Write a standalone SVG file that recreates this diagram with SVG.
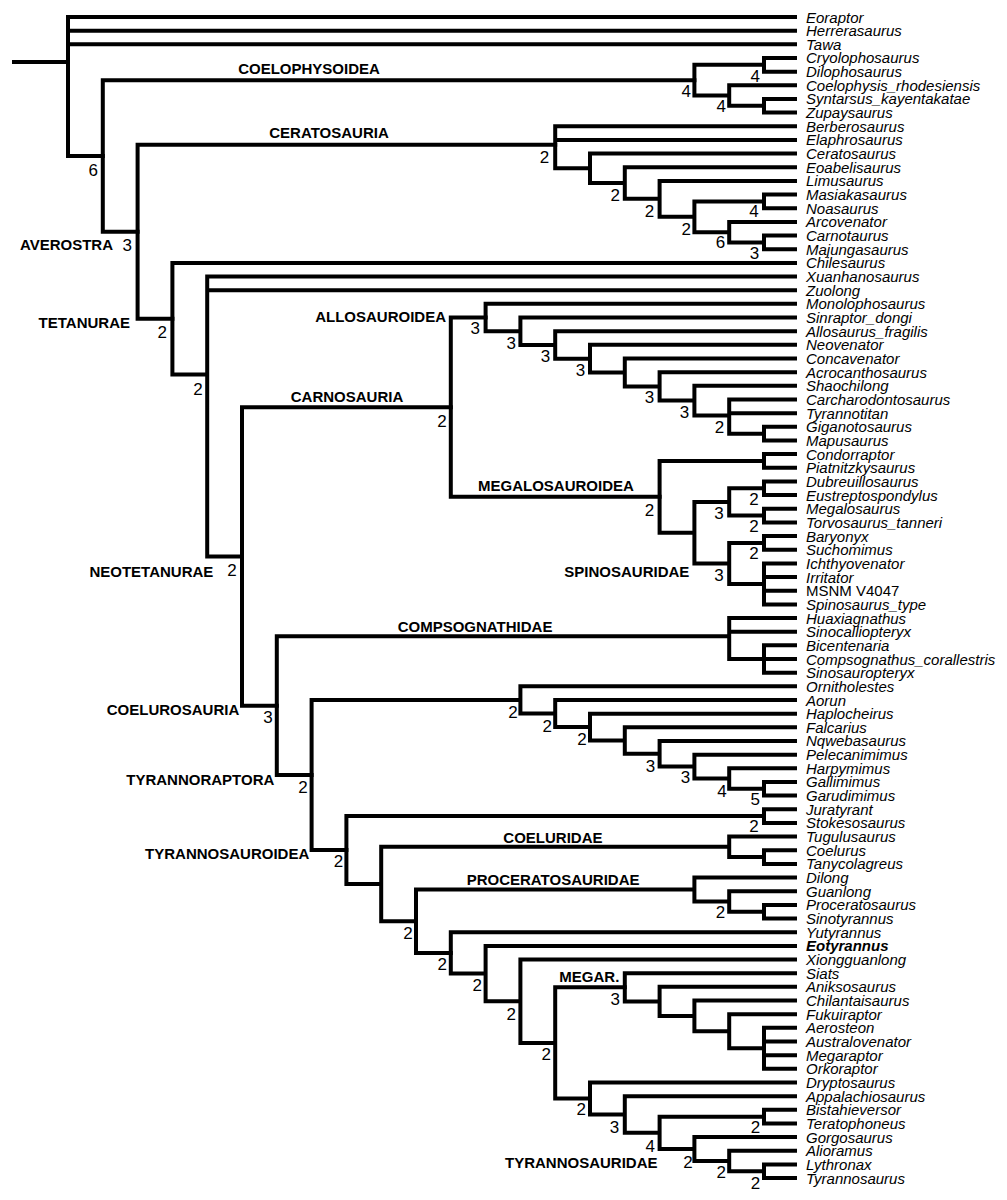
<svg xmlns="http://www.w3.org/2000/svg" width="1007" height="1200" viewBox="0 0 1007 1200">
<style>
.br{fill:none;stroke:#000;stroke-width:4;stroke-linecap:square}
.tx{font-family:"Liberation Sans",Arial,sans-serif;font-size:15px;font-style:italic;fill:#000}
.up{font-style:normal}
.bd{font-weight:bold}
.cl{font-family:"Liberation Sans",Arial,sans-serif;font-size:15px;font-weight:bold;fill:#000}
.nm{font-family:"Liberation Sans",Arial,sans-serif;font-size:17px;fill:#000;text-anchor:end}
</style>
<rect width="1007" height="1200" fill="#fff"/>
<g id="connectors">
<path class="br" d="M14 62H68M68 17V155.96M68 17H795M68 30.66H795M68 44.32H795M68 155.96H102.8"/>
<path class="br" d="M102.8 80.18V231.74M102.8 80.18H694.4M102.8 231.74H137.6"/>
<path class="br" d="M694.4 64.81V95.55M694.4 64.81H764M694.4 95.55H729.2M764 57.98V71.64M764 57.98H795M764 71.64H795M729.2 85.3V105.79M729.2 85.3H795M729.2 105.79H764M764 98.96V112.62M764 98.96H795M764 112.62H795"/>
<path class="br" d="M137.6 144.85V318.63M137.6 144.85H555.2M137.6 318.63H172.4"/>
<path class="br" d="M555.2 126.28V168.33M555.2 126.28H795M555.2 139.94H795M555.2 168.33H590M590 153.6V183.06M590 153.6H795M590 183.06H624.8M624.8 167.26V198.85M624.8 167.26H795M624.8 198.85H659.6M659.6 180.92V216.78M659.6 180.92H795M659.6 216.78H694.4M694.4 201.41V232.15M694.4 201.41H764M694.4 232.15H729.2M764 194.58V208.24M764 194.58H795M764 208.24H795M729.2 221.9V242.39M729.2 221.9H795M729.2 242.39H764M764 235.56V249.22M764 235.56H795M764 249.22H795"/>
<path class="br" d="M172.4 262.88V374.38M172.4 262.88H795M172.4 374.38H207.2M207.2 276.54V556.41M207.2 276.54H795M207.2 290.2H795M207.2 556.41H242M242 407.18V705.63M242 407.18H450.8M242 705.63H276.8"/>
<path class="br" d="M450.8 317.54V496.81M450.8 317.54H485.6M450.8 496.81H659.6"/>
<path class="br" d="M485.6 303.86V331.22M485.6 303.86H795M485.6 331.22H520.4M520.4 317.52V344.91M520.4 317.52H795M520.4 344.91H555.2M555.2 331.18V358.64M555.2 331.18H795M555.2 358.64H590M590 344.84V372.45M590 344.84H795M590 372.45H624.8M624.8 358.5V386.39M624.8 358.5H795M624.8 386.39H659.6M659.6 372.16V400.62M659.6 372.16H795M659.6 400.62H694.4M694.4 385.82V415.42M694.4 385.82H795M694.4 415.42H729.2M729.2 399.48V433.63M729.2 399.48H795M729.2 413.14H795M729.2 433.63H764M764 426.8V440.46M764 426.8H795M764 440.46H795"/>
<path class="br" d="M659.6 460.95V532.67M659.6 460.95H764M659.6 532.67H694.4M764 454.12V467.78M764 454.12H795M764 467.78H795M694.4 501.93V563.4M694.4 501.93H729.2M694.4 563.4H729.2M729.2 488.27V515.59M729.2 488.27H764M729.2 515.59H764M764 481.44V495.1M764 481.44H795M764 495.1H795M764 508.76V522.42M764 508.76H795M764 522.42H795M729.2 542.91V583.89M729.2 542.91H764M729.2 583.89H764M764 536.08V549.74M764 536.08H795M764 549.74H795M764 563.4V604.38M764 563.4H795M764 577.06H795M764 590.72H795M764 604.38H795"/>
<path class="br" d="M276.8 636.25V775.01M276.8 636.25H729.2M276.8 775.01H311.6M729.2 618.04V659.02M729.2 618.04H795M729.2 631.7H795M729.2 659.02H764M764 645.36V672.68M764 645.36H795M764 659.02H795M764 672.68H795"/>
<path class="br" d="M311.6 699.95V850.07M311.6 699.95H520.4M311.6 850.07H346.4M520.4 686.34V713.55M520.4 686.34H795M520.4 713.55H555.2M555.2 700V727.11M555.2 700H795M555.2 727.11H590M590 713.66V740.55M590 713.66H795M590 740.55H624.8M624.8 727.32V753.79M624.8 727.32H795M624.8 753.79H659.6M659.6 740.98V766.59M659.6 740.98H795M659.6 766.59H694.4M694.4 754.64V778.55M694.4 754.64H795M694.4 778.55H729.2M729.2 768.3V788.79M729.2 768.3H795M729.2 788.79H764M764 781.96V795.62M764 781.96H795M764 795.62H795"/>
<path class="br" d="M346.4 816.11V884.03M346.4 816.11H764M346.4 884.03H381.2M764 809.28V822.94M764 809.28H795M764 822.94H795M381.2 846.85V921.21M381.2 846.85H729.2M381.2 921.21H416M729.2 836.6V857.09M729.2 836.6H795M729.2 857.09H764M764 850.26V863.92M764 850.26H795M764 863.92H795"/>
<path class="br" d="M416 889.53V952.88M416 889.53H694.4M416 952.88H450.8M694.4 877.58V901.49M694.4 877.58H795M694.4 901.49H729.2M729.2 891.24V911.73M729.2 891.24H795M729.2 911.73H764M764 904.9V918.56M764 904.9H795M764 918.56H795"/>
<path class="br" d="M450.8 932.22V973.55M450.8 932.22H795M450.8 973.55H485.6M485.6 945.88V1001.22M485.6 945.88H795M485.6 1001.22H520.4M520.4 959.54V1042.89M520.4 959.54H795M520.4 1042.89H555.2M555.2 987.29V1098.49M555.2 987.29H624.8M555.2 1098.49H590"/>
<path class="br" d="M624.8 973.2V1001.38M624.8 973.2H795M624.8 1001.38H659.6M659.6 986.86V1015.89M659.6 986.86H795M659.6 1015.89H694.4M694.4 1000.52V1031.26M694.4 1000.52H795M694.4 1031.26H729.2M729.2 1014.18V1048.33M729.2 1014.18H795M729.2 1048.33H764M764 1027.84V1068.82M764 1027.84H795M764 1041.5H795M764 1055.16H795M764 1068.82H795"/>
<path class="br" d="M590 1082.48V1114.5M590 1082.48H795M590 1114.5H624.8M624.8 1096.14V1132.85M624.8 1096.14H795M624.8 1132.85H659.6M659.6 1116.63V1149.07M659.6 1116.63H764M659.6 1149.07H694.4M764 1109.8V1123.46M764 1109.8H795M764 1123.46H795M694.4 1137.12V1161.03M694.4 1137.12H795M694.4 1161.03H729.2M729.2 1150.78V1171.27M729.2 1150.78H795M729.2 1171.27H764M764 1164.44V1178.1M764 1164.44H795M764 1178.1H795"/>
</g>
<g id="taxa">
<g id="t01"><text class="tx" x="806" y="22.5">Eoraptor</text></g>
<g id="t02"><text class="tx" x="806" y="36.16">Herrerasaurus</text></g>
<g id="t03"><text class="tx" x="806" y="49.82">Tawa</text></g>
<g id="t04"><text class="tx" x="806" y="63.48">Cryolophosaurus</text></g>
<g id="t05"><text class="tx" x="806" y="77.14">Dilophosaurus</text></g>
<g id="t06"><text class="tx" x="806" y="90.8">Coelophysis_rhodesiensis</text></g>
<g id="t07"><text class="tx" x="806" y="104.46">Syntarsus_kayentakatae</text></g>
<g id="t08"><text class="tx" x="806" y="118.12">Zupaysaurus</text></g>
<g id="t09"><text class="tx" x="806" y="131.78">Berberosaurus</text></g>
<g id="t10"><text class="tx" x="806" y="145.44">Elaphrosaurus</text></g>
<g id="t11"><text class="tx" x="806" y="159.1">Ceratosaurus</text></g>
<g id="t12"><text class="tx" x="806" y="172.76">Eoabelisaurus</text></g>
<g id="t13"><text class="tx" x="806" y="186.42">Limusaurus</text></g>
<g id="t14"><text class="tx" x="806" y="200.08">Masiakasaurus</text></g>
<g id="t15"><text class="tx" x="806" y="213.74">Noasaurus</text></g>
<g id="t16"><text class="tx" x="806" y="227.4">Arcovenator</text></g>
<g id="t17"><text class="tx" x="806" y="241.06">Carnotaurus</text></g>
<g id="t18"><text class="tx" x="806" y="254.72">Majungasaurus</text></g>
<g id="t19"><text class="tx" x="806" y="268.38">Chilesaurus</text></g>
<g id="t20"><text class="tx" x="806" y="282.04">Xuanhanosaurus</text></g>
<g id="t21"><text class="tx" x="806" y="295.7">Zuolong</text></g>
<g id="t22"><text class="tx" x="806" y="309.36">Monolophosaurus</text></g>
<g id="t23"><text class="tx" x="806" y="323.02">Sinraptor_dongi</text></g>
<g id="t24"><text class="tx" x="806" y="336.68">Allosaurus_fragilis</text></g>
<g id="t25"><text class="tx" x="806" y="350.34">Neovenator</text></g>
<g id="t26"><text class="tx" x="806" y="364">Concavenator</text></g>
<g id="t27"><text class="tx" x="806" y="377.66">Acrocanthosaurus</text></g>
<g id="t28"><text class="tx" x="806" y="391.32">Shaochilong</text></g>
<g id="t29"><text class="tx" x="806" y="404.98">Carcharodontosaurus</text></g>
<g id="t30"><text class="tx" x="806" y="418.64">Tyrannotitan</text></g>
<g id="t31"><text class="tx" x="806" y="432.3">Giganotosaurus</text></g>
<g id="t32"><text class="tx" x="806" y="445.96">Mapusaurus</text></g>
<g id="t33"><text class="tx" x="806" y="459.62">Condorraptor</text></g>
<g id="t34"><text class="tx" x="806" y="473.28">Piatnitzkysaurus</text></g>
<g id="t35"><text class="tx" x="806" y="486.94">Dubreuillosaurus</text></g>
<g id="t36"><text class="tx" x="806" y="500.6">Eustreptospondylus</text></g>
<g id="t37"><text class="tx" x="806" y="514.26">Megalosaurus</text></g>
<g id="t38"><text class="tx" x="806" y="527.92">Torvosaurus_tanneri</text></g>
<g id="t39"><text class="tx" x="806" y="541.58">Baryonyx</text></g>
<g id="t40"><text class="tx" x="806" y="555.24">Suchomimus</text></g>
<g id="t41"><text class="tx" x="806" y="568.9">Ichthyovenator</text></g>
<g id="t42"><text class="tx" x="806" y="582.56">Irritator</text></g>
<g id="t43"><text class="tx up" x="806" y="596.22">MSNM V4047</text></g>
<g id="t44"><text class="tx" x="806" y="609.88">Spinosaurus_type</text></g>
<g id="t45"><text class="tx" x="806" y="623.54">Huaxiagnathus</text></g>
<g id="t46"><text class="tx" x="806" y="637.2">Sinocalliopteryx</text></g>
<g id="t47"><text class="tx" x="806" y="650.86">Bicentenaria</text></g>
<g id="t48"><text class="tx" x="806" y="664.52">Compsognathus_corallestris</text></g>
<g id="t49"><text class="tx" x="806" y="678.18">Sinosauropteryx</text></g>
<g id="t50"><text class="tx" x="806" y="691.84">Ornitholestes</text></g>
<g id="t51"><text class="tx" x="806" y="705.5">Aorun</text></g>
<g id="t52"><text class="tx" x="806" y="719.16">Haplocheirus</text></g>
<g id="t53"><text class="tx" x="806" y="732.82">Falcarius</text></g>
<g id="t54"><text class="tx" x="806" y="746.48">Nqwebasaurus</text></g>
<g id="t55"><text class="tx" x="806" y="760.14">Pelecanimimus</text></g>
<g id="t56"><text class="tx" x="806" y="773.8">Harpymimus</text></g>
<g id="t57"><text class="tx" x="806" y="787.46">Gallimimus</text></g>
<g id="t58"><text class="tx" x="806" y="801.12">Garudimimus</text></g>
<g id="t59"><text class="tx" x="806" y="814.78">Juratyrant</text></g>
<g id="t60"><text class="tx" x="806" y="828.44">Stokesosaurus</text></g>
<g id="t61"><text class="tx" x="806" y="842.1">Tugulusaurus</text></g>
<g id="t62"><text class="tx" x="806" y="855.76">Coelurus</text></g>
<g id="t63"><text class="tx" x="806" y="869.42">Tanycolagreus</text></g>
<g id="t64"><text class="tx" x="806" y="883.08">Dilong</text></g>
<g id="t65"><text class="tx" x="806" y="896.74">Guanlong</text></g>
<g id="t66"><text class="tx" x="806" y="910.4">Proceratosaurus</text></g>
<g id="t67"><text class="tx" x="806" y="924.06">Sinotyrannus</text></g>
<g id="t68"><text class="tx" x="806" y="937.72">Yutyrannus</text></g>
<g id="t69"><text class="tx bd" x="806" y="951.38">Eotyrannus</text></g>
<g id="t70"><text class="tx" x="806" y="965.04">Xiongguanlong</text></g>
<g id="t71"><text class="tx" x="806" y="978.7">Siats</text></g>
<g id="t72"><text class="tx" x="806" y="992.36">Aniksosaurus</text></g>
<g id="t73"><text class="tx" x="806" y="1006.02">Chilantaisaurus</text></g>
<g id="t74"><text class="tx" x="806" y="1019.68">Fukuiraptor</text></g>
<g id="t75"><text class="tx" x="806" y="1033.34">Aerosteon</text></g>
<g id="t76"><text class="tx" x="806" y="1047">Australovenator</text></g>
<g id="t77"><text class="tx" x="806" y="1060.66">Megaraptor</text></g>
<g id="t78"><text class="tx" x="806" y="1074.32">Orkoraptor</text></g>
<g id="t79"><text class="tx" x="806" y="1087.98">Dryptosaurus</text></g>
<g id="t80"><text class="tx" x="806" y="1101.64">Appalachiosaurus</text></g>
<g id="t81"><text class="tx" x="806" y="1115.3">Bistahieversor</text></g>
<g id="t82"><text class="tx" x="806" y="1128.96">Teratophoneus</text></g>
<g id="t83"><text class="tx" x="806" y="1142.62">Gorgosaurus</text></g>
<g id="t84"><text class="tx" x="806" y="1156.28">Alioramus</text></g>
<g id="t85"><text class="tx" x="806" y="1169.94">Lythronax</text></g>
<g id="t86"><text class="tx" x="806" y="1183.6">Tyrannosaurus</text></g>
</g>
<g id="clades">
<g id="c-coelophysoidea"><text class="cl" x="309" y="73.5" text-anchor="middle">COELOPHYSOIDEA</text></g>
<g id="c-ceratosauria"><text class="cl" x="329" y="137.7" text-anchor="middle">CERATOSAURIA</text></g>
<g id="c-averostra"><text class="cl" x="113" y="250" text-anchor="end">AVEROSTRA</text></g>
<g id="c-tetanurae"><text class="cl" x="130" y="327.7" text-anchor="end">TETANURAE</text></g>
<g id="c-allosauroidea"><text class="cl" x="446" y="322" text-anchor="end">ALLOSAUROIDEA</text></g>
<g id="c-carnosauria"><text class="cl" x="347" y="402" text-anchor="middle">CARNOSAURIA</text></g>
<g id="c-megalosauroidea"><text class="cl" x="478" y="490.7">MEGALOSAUROIDEA</text></g>
<g id="c-spinosauridae"><text class="cl" x="564.3" y="577.3">SPINOSAURIDAE</text></g>
<g id="c-neotetanurae"><text class="cl" x="213.3" y="576.7" text-anchor="end">NEOTETANURAE</text></g>
<g id="c-compsognathidae"><text class="cl" x="397.7" y="632.3">COMPSOGNATHIDAE</text></g>
<g id="c-coelurosauria"><text class="cl" x="239.3" y="715" text-anchor="end">COELUROSAURIA</text></g>
<g id="c-tyrannoraptora"><text class="cl" x="274.3" y="785" text-anchor="end">TYRANNORAPTORA</text></g>
<g id="c-tyrannosauroidea"><text class="cl" x="309.3" y="859.3" text-anchor="end">TYRANNOSAUROIDEA</text></g>
<g id="c-coeluridae"><text class="cl" x="503.3" y="843.3">COELURIDAE</text></g>
<g id="c-proceratosauridae"><text class="cl" x="466.7" y="885">PROCERATOSAURIDAE</text></g>
<g id="c-megar"><text class="cl" x="559.3" y="981.7">MEGAR.</text></g>
<g id="c-tyrannosauridae"><text class="cl" x="505" y="1168.3">TYRANNOSAURIDAE</text></g>
</g>
<g id="support">
<text class="nm" x="98" y="176">6</text>
<text class="nm" x="760" y="81.7">4</text>
<text class="nm" x="691" y="96.7">4</text>
<text class="nm" x="726" y="111.7">4</text>
<text class="nm" x="549.3" y="163.3">2</text>
<text class="nm" x="620" y="201">2</text>
<text class="nm" x="654.3" y="216.7">2</text>
<text class="nm" x="691" y="235">2</text>
<text class="nm" x="758.7" y="216.7">4</text>
<text class="nm" x="725.3" y="247.7">6</text>
<text class="nm" x="759.3" y="259.3">3</text>
<text class="nm" x="132" y="251">3</text>
<text class="nm" x="167" y="338.3">2</text>
<text class="nm" x="202.7" y="395">2</text>
<text class="nm" x="480" y="334">3</text>
<text class="nm" x="516" y="349.3">3</text>
<text class="nm" x="550.3" y="362.3">3</text>
<text class="nm" x="585.3" y="376">3</text>
<text class="nm" x="654.3" y="403.3">3</text>
<text class="nm" x="689.3" y="418.3">3</text>
<text class="nm" x="724.3" y="433.3">2</text>
<text class="nm" x="446.7" y="426.7">2</text>
<text class="nm" x="654.3" y="515.7">2</text>
<text class="nm" x="758.7" y="505">2</text>
<text class="nm" x="723.7" y="519">3</text>
<text class="nm" x="758.7" y="531.7">2</text>
<text class="nm" x="758.7" y="559.3">2</text>
<text class="nm" x="723.7" y="580.7">3</text>
<text class="nm" x="236.7" y="575.7">2</text>
<text class="nm" x="272.7" y="723.3">3</text>
<text class="nm" x="307.7" y="792.7">2</text>
<text class="nm" x="517.7" y="718.3">2</text>
<text class="nm" x="552" y="731.7">2</text>
<text class="nm" x="586.7" y="745">2</text>
<text class="nm" x="655.3" y="771.7">3</text>
<text class="nm" x="690.3" y="783.3">3</text>
<text class="nm" x="726.7" y="797.3">4</text>
<text class="nm" x="760" y="805">5</text>
<text class="nm" x="343.3" y="866.7">2</text>
<text class="nm" x="758.7" y="831.7">2</text>
<text class="nm" x="725.3" y="918.3">2</text>
<text class="nm" x="412.7" y="939.3">2</text>
<text class="nm" x="447" y="970">2</text>
<text class="nm" x="482" y="991">2</text>
<text class="nm" x="620" y="1005">3</text>
<text class="nm" x="516" y="1020">2</text>
<text class="nm" x="551" y="1060">2</text>
<text class="nm" x="586" y="1115">2</text>
<text class="nm" x="619.3" y="1132.7">3</text>
<text class="nm" x="655" y="1151.7">4</text>
<text class="nm" x="760.3" y="1133.3">2</text>
<text class="nm" x="692.7" y="1168.3">2</text>
<text class="nm" x="726" y="1178.3">2</text>
<text class="nm" x="760.3" y="1189.3">2</text>
</g>
</svg>
